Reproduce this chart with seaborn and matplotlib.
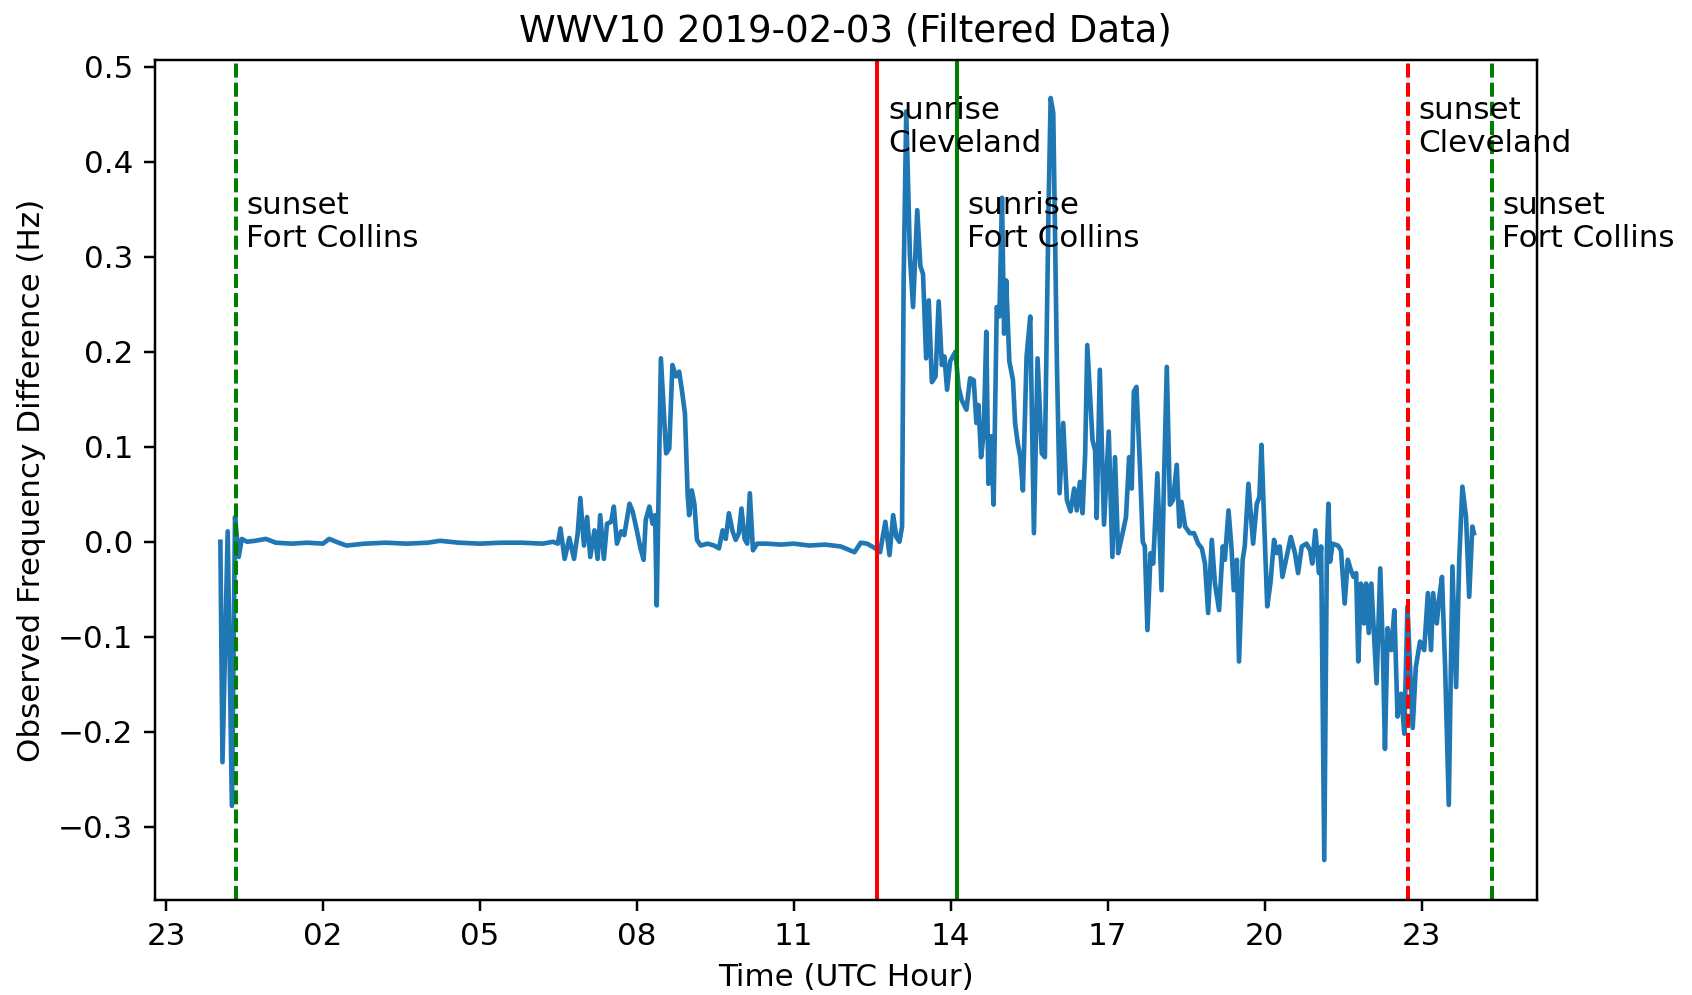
import numpy as np
import pandas as pd
import matplotlib
matplotlib.use("Agg")
import matplotlib.pyplot as plt
import seaborn as sns

# Time in hours (UTC) relative to 2019-02-03 00:00
hours = [
    0.04, 0.08, 0.18, 0.26, 0.32, 0.39, 0.45, 0.55, 0.70, 0.91, 1.10, 1.40, 1.70, 2.00, 2.12,
    2.25, 2.45, 2.80, 3.20, 3.60, 4.00, 4.24, 4.60, 5.00, 5.40, 5.80, 6.20, 6.40, 6.49,
    6.54, 6.62, 6.71, 6.80, 6.87, 6.92, 6.99, 7.05, 7.11, 7.19, 7.25, 7.30, 7.37, 7.43,
    7.51, 7.56, 7.62, 7.70, 7.76, 7.86, 7.92, 8.00, 8.07, 8.13, 8.17, 8.24, 8.30, 8.35,
    8.38, 8.46, 8.56, 8.62, 8.68, 8.75, 8.81, 8.87, 8.92, 8.97, 9.00, 9.05, 9.10, 9.15,
    9.22, 9.35, 9.48, 9.57, 9.64, 9.70, 9.76, 9.83, 9.89, 9.95, 10.00, 10.06, 10.11, 10.16,
    10.22, 10.30, 10.49, 10.75, 11.00, 11.30, 11.60, 11.90, 12.16, 12.28, 12.40, 12.56,
    12.65, 12.75, 12.83, 12.90, 12.96, 13.02, 13.07, 13.10, 13.15, 13.22, 13.28, 13.36,
    13.42, 13.47, 13.53, 13.58, 13.64, 13.71, 13.77, 13.83, 13.88, 13.93, 13.99, 14.09,
    14.15, 14.21, 14.30, 14.37, 14.44, 14.49, 14.53, 14.58, 14.63, 14.68, 14.72, 14.77,
    14.82, 14.88, 14.93, 14.98, 15.02, 15.06, 15.12, 15.19, 15.23, 15.28, 15.33, 15.38,
    15.45, 15.52, 15.59, 15.66, 15.74, 15.80, 15.87, 15.91, 15.96, 16.03, 16.08, 16.15,
    16.22, 16.29, 16.36, 16.41, 16.47, 16.52, 16.57, 16.61, 16.71, 16.76, 16.79, 16.85,
    16.93, 17.02, 17.09, 17.14, 17.20, 17.27, 17.35, 17.41, 17.46, 17.50, 17.55, 17.62,
    17.67, 17.71, 17.76, 17.82, 17.87, 17.95, 18.03, 18.08, 18.13, 18.19, 18.25, 18.32,
    18.37, 18.41, 18.48, 18.57, 18.65, 18.73, 18.80, 18.86, 18.92, 18.99, 19.05, 19.13,
    19.20, 19.24, 19.31, 19.37, 19.41, 19.47, 19.51, 19.58, 19.62, 19.69, 19.78, 19.85,
    19.90, 19.94, 19.99, 20.05, 20.11, 20.18, 20.23, 20.29, 20.34, 20.42, 20.50, 20.58,
    20.64, 20.71, 20.80, 20.87, 20.91, 20.97, 21.04, 21.08, 21.14, 21.19, 21.22, 21.25,
    21.30, 21.40, 21.46, 21.53, 21.59, 21.65, 21.70, 21.75, 21.79, 21.84, 21.90, 21.94,
    21.99, 22.04, 22.08, 22.14, 22.21, 22.26, 22.30, 22.35, 22.42, 22.48, 22.54, 22.61,
    22.67, 22.73, 22.83, 22.89, 22.97, 23.05, 23.12, 23.18, 23.22, 23.29, 23.34, 23.39,
    23.45, 23.52, 23.59, 23.66, 23.72, 23.78, 23.85, 23.91, 23.97, 24.00,
]

freq_diff = [
    0.000, -0.232, 0.011, -0.278, 0.026, -0.016, 0.003, 0.000, 0.001, 0.003, -0.001, -0.002, -0.001, -0.002, 0.003,
    0.000, -0.004, -0.002, -0.001, -0.002, -0.001, 0.001, -0.001, -0.002, -0.001, -0.001, -0.002, 0.000, -0.002,
    0.014, -0.018, 0.004, -0.018, 0.009, 0.046, -0.004, 0.026, -0.016, 0.012, -0.018, 0.028, -0.018, 0.019,
    0.021, 0.037, -0.002, 0.011, 0.007, 0.040, 0.032, 0.012, -0.007, -0.019, 0.023, 0.037, 0.019, 0.028,
    -0.067, 0.193, 0.093, 0.098, 0.186, 0.174, 0.179, 0.156, 0.135, 0.051, 0.028, 0.054, 0.040, 0.002,
    -0.004, -0.002, -0.004, -0.007, 0.012, 0.003, 0.030, 0.011, 0.002, 0.009, 0.035, 0.003, -0.002, 0.051,
    -0.009, -0.002, -0.002, -0.003, -0.002, -0.004, -0.003, -0.005, -0.011, -0.001, -0.002, -0.007,
    -0.011, 0.021, -0.014, 0.028, 0.005, 0.000, 0.016, 0.275, 0.453, 0.300, 0.247, 0.349,
    0.290, 0.282, 0.193, 0.254, 0.168, 0.174, 0.253, 0.186, 0.195, 0.160, 0.190, 0.200,
    0.163, 0.149, 0.139, 0.172, 0.170, 0.125, 0.144, 0.089, 0.114, 0.221, 0.061, 0.111,
    0.039, 0.247, 0.237, 0.362, 0.219, 0.275, 0.190, 0.170, 0.125, 0.104, 0.089, 0.054,
    0.195, 0.237, 0.009, 0.193, 0.093, 0.089, 0.352, 0.467, 0.451, 0.186, 0.051, 0.125,
    0.044, 0.032, 0.056, 0.033, 0.063, 0.030, 0.093, 0.207, 0.107, 0.096, 0.025, 0.181,
    0.018, 0.116, -0.016, 0.089, -0.012, 0.005, 0.026, 0.089, 0.056, 0.158, 0.163, 0.075,
    0.000, -0.005, -0.093, -0.012, -0.023, 0.072, -0.051, 0.072, 0.184, 0.039, 0.044, 0.081,
    0.016, 0.042, 0.016, 0.009, 0.009, -0.002, -0.007, -0.023, -0.075, 0.002, -0.044, -0.072,
    -0.005, -0.019, 0.033, -0.009, -0.051, -0.019, -0.126, -0.019, -0.005, 0.061, -0.002, 0.040,
    0.047, 0.102, 0.023, -0.068, -0.044, 0.002, -0.012, -0.005, -0.037, -0.016, 0.005, -0.012,
    -0.033, -0.005, -0.002, -0.009, -0.023, 0.012, -0.033, -0.005, -0.335, -0.009, 0.040, -0.021,
    -0.002, -0.004, -0.009, -0.065, -0.019, -0.030, -0.037, -0.033, -0.126, -0.044, -0.086, -0.044,
    -0.096, -0.044, -0.086, -0.149, -0.028, -0.114, -0.218, -0.091, -0.114, -0.072, -0.184, -0.160,
    -0.202, -0.068, -0.196, -0.132, -0.105, -0.114, -0.054, -0.114, -0.054, -0.086, -0.058, -0.037,
    -0.132, -0.277, -0.026, -0.153, -0.019, 0.058, 0.026, -0.058, 0.016, 0.009,
]

# Sunrise / sunset events (hours UTC relative to 2019-02-03 00:00)
event_hours = [0.33, 12.60, 14.12, 22.74, 24.34]
event_labels = ["sunset\nFort Collins", "sunrise\nCleveland", "sunrise\nFort Collins",
                "sunset\nCleveland", "sunset\nFort Collins"]
event_colors = ["green", "red", "green", "red", "green"]
event_dashed = [True, False, False, True, True]
event_text_y = [0.31, 0.41, 0.31, 0.41, 0.31]

tick_positions = [-1, 2, 5, 8, 11, 14, 17, 20, 23]
tick_labels = ["23", "02", "05", "08", "11", "14", "17", "20", "23"]

df = pd.DataFrame({"hour": hours, "freq": freq_diff})

DPI = 223
fig = plt.figure(figsize=(1692 / DPI, 995 / DPI), dpi=DPI)
ax = fig.add_axes([0.0916, 0.0955, 0.8166, 0.8442])

sns.lineplot(data=df, x="hour", y="freq", ax=ax, color="#1f77b4",
             linewidth=1.5, estimator=None, sort=False)

for xh, lab, col, dashed, ty in zip(event_hours, event_labels, event_colors,
                                     event_dashed, event_text_y):
    ls = (0, (3.5, 1.25)) if dashed else "-"
    ax.axvline(xh, color=col, linestyle=ls, linewidth=1.3)
    ax.text(xh + 0.2, ty, lab, fontsize=10, va="baseline", ha="left")

ax.set_xlim(-1.21, 25.2)
ax.set_ylim(-0.377, 0.507)
ax.set_xticks(tick_positions)
ax.set_xticklabels(tick_labels)
ax.set_yticks([-0.3, -0.2, -0.1, 0.0, 0.1, 0.2, 0.3, 0.4, 0.5])
ax.set_xlabel("Time (UTC Hour)")
ax.set_ylabel("Observed Frequency Difference (Hz)")
ax.set_title("WWV10 2019-02-03 (Filtered Data)")

fig.savefig("out.png", dpi=DPI)
